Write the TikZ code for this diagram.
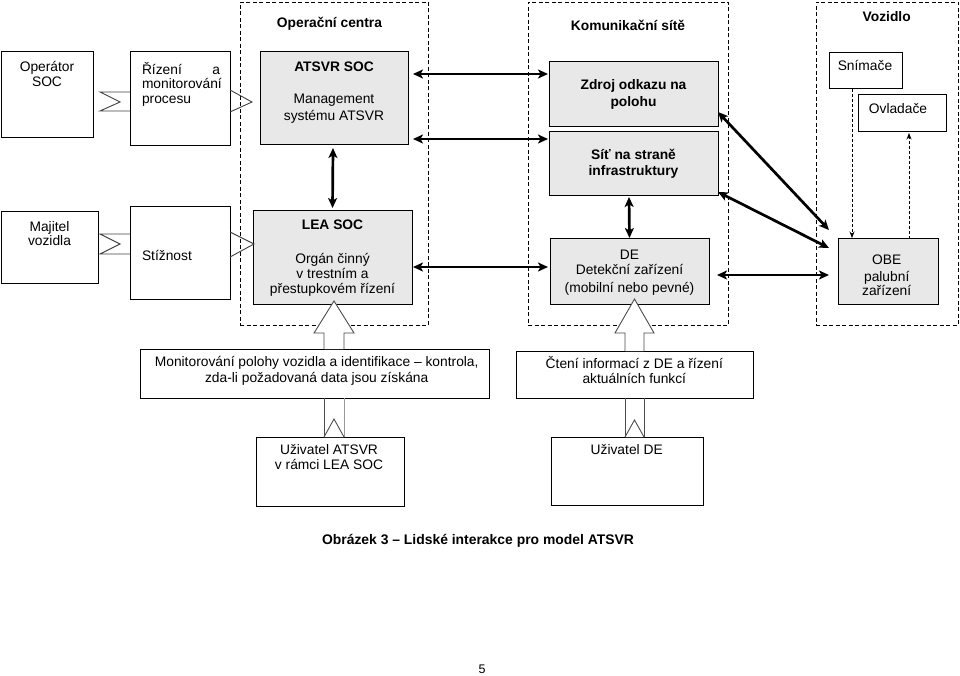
\documentclass[tikz,border=0pt]{standalone}
\usepackage{fontspec}
\setmainfont{Liberation Sans}
\usetikzlibrary{arrows.meta,calc}
\definecolor{boxgray}{RGB}{232,232,232}
\newcommand\diagfs{\fontsize{13.8}{16}\selectfont}
\newcommand\capfs{\fontsize{13.9}{16}\selectfont}
\begin{document}
\begin{tikzpicture}[x=1pt,y=-1pt,
  box/.style={draw=black, line width=1pt, inner sep=0pt, outer sep=0pt, fill=white},
  gbox/.style={box, fill=boxgray},
  group/.style={draw=black, line width=0.9pt, dash pattern=on 4pt off 2.5pt, inner sep=0pt, outer sep=0pt},
  txt/.style={inner sep=0pt, outer sep=0pt, text height=9.9pt, text depth=0pt, font=\diagfs},
  btxt/.style={txt, font=\diagfs\bfseries},
  dbl/.style={line width=2.7pt, {Stealth[length=10pt,width=9pt,inset=2.5pt]}-{Stealth[length=10pt,width=9pt,inset=2.5pt]}},
  dsh/.style={line width=0.8pt, dash pattern=on 3pt off 2pt, -{Stealth[length=6.5pt,width=5pt]}},
  hollow/.style={draw=black!70, line width=0.9pt, fill=white, line join=miter},
  iface/.style={draw=black!75, line width=0.9pt, line join=miter}
]
\useasboundingbox (0,0) rectangle (960,676);

% groups
\node[group, minimum width=188pt, minimum height=323pt] (gops) at (334,163.5) {};
\node[group, minimum width=200pt, minimum height=323pt] (gkom) at (628,163.5) {};
\node[group, minimum width=142pt, minimum height=323pt] (gvoz) at (887,163.5) {};
\node[btxt] (tops) at (329.5,23) {Operační centra};
\node[btxt] (tkom) at (628,25.3) {Komunikační sítě};
\node[btxt] (tvoz) at (886.7,16.7) {Vozidlo};

% left boxes
\node[box, minimum width=92pt, minimum height=86pt] (opsoc) at (47,95) {};
\node[txt] (topsoc1) at (47,67) {Operátor};
\node[txt] (topsoc2) at (47,81.5) {SOC};
\node[box, minimum width=100pt, minimum height=94pt] (rizeni) at (180,99) {};
\node[txt, anchor=west] (triz1) at (142,69.7) {Řízení};
\node[txt, anchor=east] (triz1b) at (220,69.7) {a};
\node[txt, anchor=west] (triz2) at (142,84) {monitorování};
\node[txt, anchor=west] (triz3) at (142,98.5) {procesu};
\node[box, minimum width=97pt, minimum height=71pt] (majitel) at (49.5,247.5) {};
\node[txt] (tmaj1) at (49.5,226.7) {Majitel};
\node[txt] (tmaj2) at (49.5,241) {vozidla};
\node[box, minimum width=100pt, minimum height=92pt] (stiznost) at (180,253) {};
\node[txt, anchor=west] (tstiz) at (142,256) {Stížnost};

% operation centres
\node[gbox, minimum width=148pt, minimum height=93pt] (atsvr) at (334,98.5) {};
\node[btxt] (tatsvr1) at (334,66.7) {ATSVR SOC};
\node[txt] (tatsvr2) at (334,99) {Management};
\node[txt] (tatsvr3) at (334,115.5) {systému ATSVR};
\node[gbox, minimum width=159pt, minimum height=93pt] (lea) at (332.5,257.5) {};
\node[btxt] (tlea1) at (332.5,225) {LEA SOC};
\node[txt] (tlea2) at (332.5,259) {Orgán činný};
\node[txt] (tlea3) at (332.5,273.5) {v trestním a};
\node[txt] (tlea4) at (332.5,288.5) {přestupkovém řízení};

% communication networks
\node[gbox, minimum width=169pt, minimum height=65pt] (zdroj) at (633.5,94.5) {};
\node[btxt] (tzdroj1) at (633.5,85) {Zdroj odkazu na};
\node[btxt] (tzdroj2) at (633.5,101.5) {polohu};
\node[gbox, minimum width=169pt, minimum height=64pt] (sit) at (633.5,164) {};
\node[btxt] (tsit1) at (633.5,154.7) {Síť na straně};
\node[btxt] (tsit2) at (633.5,170.3) {infrastruktury};
\node[gbox, minimum width=159pt, minimum height=65pt] (de) at (629.5,271.5) {};
\node[txt] (tde1) at (629.5,254.3) {DE};
\node[txt] (tde2) at (629.5,269.5) {Detekční zařízení};
\node[txt] (tde3) at (629.5,287.5) {(mobilní nebo pevné)};

% vehicle
\node[box, minimum width=73pt, minimum height=36pt] (snim) at (865.5,71) {};
\node[txt] (tsnim) at (865,66) {Snímače};
\node[box, minimum width=88pt, minimum height=37pt] (ovl) at (902,113.5) {};
\node[txt] (tovl) at (898,108.8) {Ovladače};
\node[gbox, minimum width=100pt, minimum height=65pt] (obe) at (888,271.5) {};
\node[txt] (tobe1) at (886.7,260) {OBE};
\node[txt] (tobe2) at (886.7,276.7) {palubní};
\node[txt] (tobe3) at (886.7,291) {zařízení};

% bottom boxes
\node[box, minimum width=349pt, minimum height=49pt] (mon) at (314.5,373.5) {};
\node[txt] (tmon1) at (316.7,361.7) {Monitorování polohy vozidla a identifikace – kontrola,};
\node[txt] (tmon2) at (316.7,377.3) {zda-li požadovaná data jsou získána};
\node[box, minimum width=148pt, minimum height=69pt] (uzatsvr) at (330,471.5) {};
\node[txt] (tuza1) at (329,449.7) {Uživatel ATSVR};
\node[txt] (tuza2) at (329,465) {v rámci LEA SOC};
\node[box, minimum width=237pt, minimum height=47pt] (cteni) at (634.5,374.5) {};
\node[txt] (tcte1) at (634.3,363.3) {Čtení informací z DE a řízení};
\node[txt] (tcte2) at (634.3,378.3) {aktuálních funkcí};
\node[box, minimum width=152pt, minimum height=68pt] (uzde) at (627,471) {};
\node[txt] (tuzde) at (626.7,449.7) {Uživatel DE};

% caption and page number
\node[inner sep=0pt, text height=9.9pt, text depth=0pt, font=\capfs\bfseries] (caption) at (478,540) {Obrázek 3 – Lidské interakce pro model ATSVR};
\node[inner sep=0pt, text height=9pt, text depth=0pt, font=\fontsize{12.5}{14}\selectfont] (pagenum) at (482,669) {5};

% interface symbols
\draw[iface] ([yshift=7pt]rizeni.west) -- ++(-30,0) -- ++(20,10) -- ++(-20,9) -- ++(30,0);
\draw[iface] ([yshift=9pt]rizeni.east) -- ++(22,12) -- ++(-22,10);
\draw[iface] ([yshift=19pt]stiznost.west) -- ++(-30,0) -- ++(20,10) -- ++(-20,10) -- ++(30,0);
\draw[iface] ([yshift=21pt]stiznost.east) -- ++(24,12) -- ++(-24,13);

% double arrows
\draw[dbl] ([xshift=5pt,yshift=24.5pt]atsvr.east) -- ([xshift=-1pt,yshift=20.5pt]zdroj.west);
\draw[dbl] ([xshift=5pt,yshift=-40.5pt]atsvr.east) -- ([xshift=-1pt,yshift=25pt]sit.west);
\draw[dbl] ([xshift=1pt,yshift=-9.5pt]lea.east) -- ([xshift=-2pt,yshift=4.5pt]de.west);
\draw[dbl] ([xshift=-1pt,yshift=-3pt]atsvr.south) -- ([yshift=3pt]lea.north);
\draw[dbl] ([xshift=-4.5pt,yshift=-1pt]sit.south) -- ([yshift=1pt]de.north);
\draw[dbl] ([xshift=8pt,yshift=-3.5pt]de.east) -- ([xshift=-9pt,yshift=-3.5pt]obe.west);
\draw[dbl] ([yshift=-17.5pt]zdroj.east) -- ([xshift=-9pt,yshift=41.5pt]obe.west);
\draw[dbl] ([yshift=-28pt]sit.east) -- ([xshift=-9pt,yshift=23.5pt]obe.west);

% dashed arrows
\draw[dsh] ([xshift=-13.5pt]snim.south) -- ([xshift=-36pt,yshift=1pt]obe.north);
\draw[dsh] ([xshift=21pt]obe.north) -- ([xshift=7pt,yshift=-1pt]ovl.south);

% hollow arrows
\draw[hollow] ([xshift=9.5pt]mon.north) -- ++(0,-16) -- ++(-10,0) -- ++(20,-32) -- ++(20,32) -- ++(-10,0) -- ([xshift=29.5pt]mon.north);
\draw[hollow] ([xshift=9.5pt]mon.south) -- ([xshift=-6pt]uzatsvr.north);
\draw[hollow, draw=black!40] ([xshift=29.5pt]mon.south) -- ([xshift=14pt]uzatsvr.north);
\draw[hollow] ([xshift=-6pt]uzatsvr.north) -- ++(10,-18) -- ++(10,18);

\draw[hollow] ([xshift=-9.5pt]cteni.north) -- ++(0,-18) -- ++(-10,0) -- ++(19.5,-34) -- ++(19.5,34) -- ++(-10,0) -- ([xshift=9.5pt]cteni.north);
\draw[hollow] ([xshift=-9.5pt]cteni.south) -- ([xshift=-2pt]uzde.north);
\draw[hollow] ([xshift=9.5pt]cteni.south) -- ([xshift=17pt]uzde.north);
\draw[hollow] ([xshift=-2pt]uzde.north) -- ++(9.5,-17) -- ++(9.5,17);
\end{tikzpicture}
\end{document}
